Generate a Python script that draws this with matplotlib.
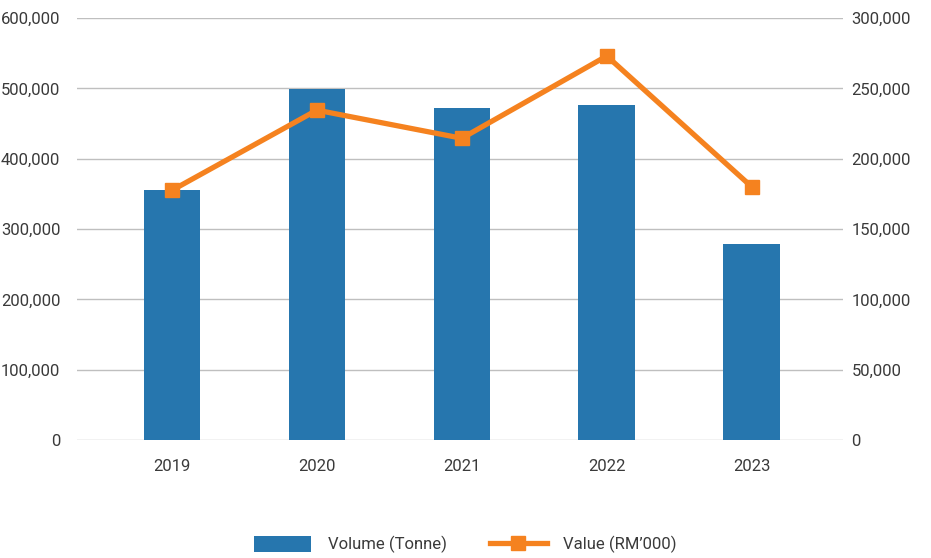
import matplotlib
matplotlib.use("Agg")
import matplotlib.pyplot as plt
from matplotlib.ticker import FuncFormatter
from matplotlib.lines import Line2D
from matplotlib.patches import Patch

years = ["2019", "2020", "2021", "2022", "2023"]
volume = [355000, 499000, 472000, 476000, 278000]      # tonne, left axis
value = [177500, 234500, 214500, 273000, 180000]       # RM'000, right axis

BLUE = "#2676AE"
ORANGE = "#F5821F"
TXT = "#3A3A3A"

plt.rcParams["font.family"] = ["Roboto", "DejaVu Sans"]

fig = plt.figure(figsize=(9.31, 5.58), dpi=100)
ax = fig.add_axes([0.0827, 0.2115, 0.8228, 0.7562])
x = list(range(len(years)))

ax.bar(x, volume, width=0.39, color=BLUE, zorder=2)
ax.set_ylim(0, 600000)
ax.set_yticks(range(0, 600001, 100000))
ax.set_xlim(-0.655, 4.63)
ax.grid(axis="y", color="#BFBFBF", linewidth=1, zorder=0)
ax.set_axisbelow(True)

fmt = FuncFormatter(lambda v, p: f"{int(v):,}")
ax.yaxis.set_major_formatter(fmt)
ax.set_xticks(x)
ax.set_xticklabels(years)
for s in ax.spines.values():
    s.set_visible(False)
ax.tick_params(length=0, labelsize=12, colors=TXT)
ax.tick_params(axis="x", pad=14)
ax.tick_params(axis="y", pad=12)

ax2 = ax.twinx()
ax2.plot(x, value, color=ORANGE, lw=3.8, marker="s", ms=10, zorder=3)
ax2.set_ylim(0, 300000)
ax2.set_yticks(range(0, 300001, 50000))
ax2.yaxis.set_major_formatter(fmt)
for s in ax2.spines.values():
    s.set_visible(False)
ax2.tick_params(length=0, labelsize=12, colors=TXT, pad=6)

handles = [Patch(facecolor=BLUE),
           Line2D([0], [0], color=ORANGE, lw=3.8, marker="s", ms=10)]
fig.legend(handles, ["Volume (Tonne)", "Value (RM\u2019000)"], loc="center",
           bbox_to_anchor=(0.5, 0.024), ncol=2, frameon=False, fontsize=12,
           labelcolor=TXT, handlelength=3.4, handleheight=1.1,
           columnspacing=2.6, handletextpad=1.0)

fig.savefig("out.png", dpi=100)
